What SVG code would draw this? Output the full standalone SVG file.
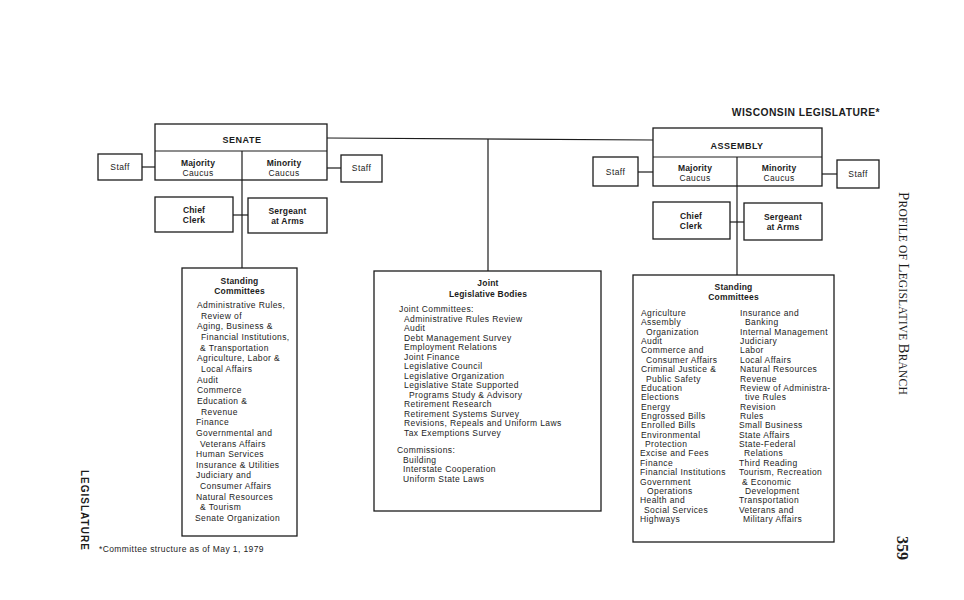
<svg xmlns="http://www.w3.org/2000/svg" width="964" height="600" viewBox="0 0 964 600">
<style>
.box{fill:#fff;stroke:#1c1c1c;stroke-width:1.3}
.ln{stroke:#1c1c1c;stroke-width:1.2;fill:none}
.t{font-family:"Liberation Sans",Arial,Helvetica,sans-serif;font-size:8.5px;letter-spacing:0.4px;fill:#1c1c1c}
.b{font-weight:bold;letter-spacing:0.2px}
.c{text-anchor:middle}
.hd{font-family:"Liberation Sans",Arial,sans-serif;font-weight:bold;fill:#1c1c1c}
.sc{font-family:"Liberation Serif","Times New Roman",serif;fill:#1c1c1c}
</style>
<rect x="0" y="0" width="964" height="600" fill="#fff"/>

<g id="connectors">
<line class="ln" x1="327" y1="138" x2="653" y2="140"/>
<line class="ln" x1="488" y1="139" x2="488" y2="271"/>
<line class="ln" x1="142" y1="167" x2="155" y2="167"/>
<line class="ln" x1="327" y1="168" x2="341" y2="168"/>
<line class="ln" x1="242" y1="180" x2="242" y2="268"/>
<line class="ln" x1="233" y1="215" x2="248" y2="215"/>
<line class="ln" x1="638" y1="172" x2="653" y2="172"/>
<line class="ln" x1="822" y1="174" x2="837" y2="174"/>
<line class="ln" x1="737" y1="186" x2="737" y2="275"/>
<line class="ln" x1="730" y1="222" x2="744" y2="222"/>
</g>

<text class="hd" x="880" y="116" font-size="10.3" letter-spacing="0.45" text-anchor="end">WISCONSIN LEGISLATURE*</text>

<g id="senate">
<rect class="box" x="155" y="124" width="172" height="56"/>
<line class="ln" x1="155" y1="151" x2="327" y2="151"/>
<line class="ln" x1="242" y1="151" x2="242" y2="180"/>
<text class="hd c" x="242" y="143" font-size="9" letter-spacing="0.5" text-anchor="middle">SENATE</text>
<text class="t b c" x="198" y="166">Majority</text>
<text class="t c" x="198" y="175.5">Caucus</text>
<text class="t b c" x="284" y="166">Minority</text>
<text class="t c" x="284" y="175.5">Caucus</text>
</g>
<g id="senate-staff-left">
<rect class="box" x="98" y="154" width="44" height="26"/>
<text class="t c" x="120" y="170">Staff</text>
</g>
<g id="senate-staff-right">
<rect class="box" x="341" y="155" width="41" height="27"/>
<text class="t c" x="361.5" y="171">Staff</text>
</g>
<g id="senate-chief-clerk">
<rect class="box" x="155" y="197" width="78" height="35"/>
<text class="t b c" x="194" y="213">Chief</text>
<text class="t b c" x="194" y="223">Clerk</text>
</g>
<g id="senate-sergeant">
<rect class="box" x="248" y="198" width="79" height="35"/>
<text class="t b c" x="287.5" y="214">Sergeant</text>
<text class="t b c" x="287.5" y="224">at Arms</text>
</g>

<g id="assembly">
<rect class="box" x="653" y="128" width="169" height="58"/>
<line class="ln" x1="653" y1="157" x2="822" y2="157"/>
<line class="ln" x1="737" y1="157" x2="737" y2="186"/>
<text class="hd" x="737" y="149" font-size="9" letter-spacing="0.5" text-anchor="middle">ASSEMBLY</text>
<text class="t b c" x="695" y="171">Majority</text>
<text class="t c" x="695" y="181">Caucus</text>
<text class="t b c" x="779" y="171">Minority</text>
<text class="t c" x="779" y="181">Caucus</text>
</g>
<g id="assembly-staff-left">
<rect class="box" x="593" y="157" width="45" height="29"/>
<text class="t c" x="615.5" y="175">Staff</text>
</g>
<g id="assembly-staff-right">
<rect class="box" x="837" y="160" width="42" height="28"/>
<text class="t c" x="858" y="177">Staff</text>
</g>
<g id="assembly-chief-clerk">
<rect class="box" x="653" y="202" width="77" height="37"/>
<text class="t b c" x="691" y="219">Chief</text>
<text class="t b c" x="691" y="229">Clerk</text>
</g>
<g id="assembly-sergeant">
<rect class="box" x="744" y="203" width="78" height="37"/>
<text class="t b c" x="783" y="219.5">Sergeant</text>
<text class="t b c" x="783" y="230">at Arms</text>
</g>

<g id="senate-standing-committees">
<rect class="box" x="182" y="268" width="115" height="268"/>
<text class="t b c" x="239.5" y="284">Standing</text>
<text class="t b c" x="239.5" y="294">Committees</text>
<text class="t" x="197" y="308">Administrative Rules,</text>
<text class="t" x="201" y="318.7">Review of</text>
<text class="t" x="197" y="329.3">Aging, Business &amp;</text>
<text class="t" x="201" y="340">Financial Institutions,</text>
<text class="t" x="200" y="350.6">&amp; Transportation</text>
<text class="t" x="197" y="361.3">Agriculture, Labor &amp;</text>
<text class="t" x="201" y="371.9">Local Affairs</text>
<text class="t" x="197" y="382.6">Audit</text>
<text class="t" x="197" y="393.2">Commerce</text>
<text class="t" x="197" y="403.9">Education &amp;</text>
<text class="t" x="201" y="414.5">Revenue</text>
<text class="t" x="196" y="425.2">Finance</text>
<text class="t" x="196" y="435.8">Governmental and</text>
<text class="t" x="200" y="446.5">Veterans Affairs</text>
<text class="t" x="196" y="457.1">Human Services</text>
<text class="t" x="196" y="467.8">Insurance &amp; Utilities</text>
<text class="t" x="196" y="478.4">Judiciary and</text>
<text class="t" x="200" y="489.1">Consumer Affairs</text>
<text class="t" x="196" y="499.7">Natural Resources</text>
<text class="t" x="200" y="510.4">&amp; Tourism</text>
<text class="t" x="195" y="521">Senate Organization</text>
</g>

<g id="joint-legislative-bodies">
<rect class="box" x="374" y="271" width="227" height="240"/>
<text class="t b c" x="488" y="286">Joint</text>
<text class="t b c" x="488" y="297">Legislative Bodies</text>
<text class="t" x="399" y="312">Joint Committees:</text>
<text class="t" x="404" y="321.5">Administrative Rules Review</text>
<text class="t" x="404" y="331">Audit</text>
<text class="t" x="404" y="340.5">Debt Management Survey</text>
<text class="t" x="404" y="350">Employment Relations</text>
<text class="t" x="404" y="359.5">Joint Finance</text>
<text class="t" x="404" y="369">Legislative Council</text>
<text class="t" x="404" y="378.5">Legislative Organization</text>
<text class="t" x="404" y="388">Legislative State Supported</text>
<text class="t" x="409" y="397.5">Programs Study &amp; Advisory</text>
<text class="t" x="404" y="407">Retirement Research</text>
<text class="t" x="404" y="416.5">Retirement Systems Survey</text>
<text class="t" x="404" y="426">Revisions, Repeals and Uniform Laws</text>
<text class="t" x="404" y="435.5">Tax Exemptions Survey</text>
<text class="t" x="397" y="453">Commissions:</text>
<text class="t" x="403" y="462.5">Building</text>
<text class="t" x="403" y="472">Interstate Cooperation</text>
<text class="t" x="403" y="481.5">Uniform State Laws</text>
</g>

<g id="assembly-standing-committees">
<rect class="box" x="633" y="275" width="201" height="267"/>
<text class="t b c" x="733.5" y="290">Standing</text>
<text class="t b c" x="733.5" y="299.5">Committees</text>
<text class="t" x="641" y="316">Agriculture</text>
<text class="t" x="641" y="325.4">Assembly</text>
<text class="t" x="646" y="334.7">Organization</text>
<text class="t" x="641" y="344.1">Audit</text>
<text class="t" x="641" y="353.4">Commerce and</text>
<text class="t" x="646" y="362.8">Consumer Affairs</text>
<text class="t" x="641" y="372.2">Criminal Justice &amp;</text>
<text class="t" x="646" y="381.5">Public Safety</text>
<text class="t" x="641" y="390.9">Education</text>
<text class="t" x="641" y="400.2">Elections</text>
<text class="t" x="641" y="409.6">Energy</text>
<text class="t" x="641" y="419">Engrossed Bills</text>
<text class="t" x="641" y="428.3">Enrolled Bills</text>
<text class="t" x="641" y="437.7">Environmental</text>
<text class="t" x="645" y="447">Protection</text>
<text class="t" x="640" y="456.4">Excise and Fees</text>
<text class="t" x="640" y="465.8">Finance</text>
<text class="t" x="640" y="475.1">Financial Institutions</text>
<text class="t" x="640" y="484.5">Government</text>
<text class="t" x="647" y="493.8">Operations</text>
<text class="t" x="640" y="503.2">Health and</text>
<text class="t" x="644" y="512.6">Social Services</text>
<text class="t" x="640" y="521.9">Highways</text>

<text class="t" x="740" y="316">Insurance and</text>
<text class="t" x="745" y="325.4">Banking</text>
<text class="t" x="740" y="334.7">Internal Management</text>
<text class="t" x="740" y="344.1">Judiciary</text>
<text class="t" x="740" y="353.4">Labor</text>
<text class="t" x="740" y="362.8">Local Affairs</text>
<text class="t" x="740" y="372.2">Natural Resources</text>
<text class="t" x="740" y="381.5">Revenue</text>
<text class="t" x="740" y="390.9">Review of Administra-</text>
<text class="t" x="745" y="400.2">tive Rules</text>
<text class="t" x="740" y="409.6">Revision</text>
<text class="t" x="740" y="419">Rules</text>
<text class="t" x="739" y="428.3">Small Business</text>
<text class="t" x="739" y="437.7">State Affairs</text>
<text class="t" x="739" y="447">State-Federal</text>
<text class="t" x="744" y="456.4">Relations</text>
<text class="t" x="739" y="465.8">Third Reading</text>
<text class="t" x="739" y="475.1">Tourism, Recreation</text>
<text class="t" x="742" y="484.5">&amp; Economic</text>
<text class="t" x="745" y="493.8">Development</text>
<text class="t" x="739" y="503.2">Transportation</text>
<text class="t" x="739" y="512.6">Veterans and</text>
<text class="t" x="743" y="521.9">Military Affairs</text>
</g>

<text class="t" x="99" y="552">*Committee structure as of May 1, 1979</text>

<text class="hd" transform="translate(81,470) rotate(90)" x="0" y="0" font-size="10" letter-spacing="1">LEGISLATURE</text>

<text class="sc" transform="translate(899,192) rotate(90)" x="0" y="0" font-size="11.5" letter-spacing="0.2"><tspan font-size="15">P</tspan>ROFILE OF <tspan font-size="15">L</tspan>EGISLATIVE <tspan font-size="15">B</tspan>RANCH</text>

<text class="sc" transform="translate(897,536) rotate(90)" x="0" y="0" font-size="16" font-weight="bold">359</text>
</svg>
